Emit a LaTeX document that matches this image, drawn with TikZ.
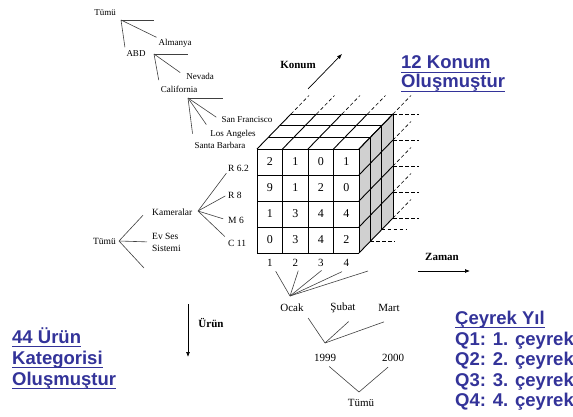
\documentclass[tikz,border=0pt]{standalone}
\usepackage{fontspec}
\setmainfont{Liberation Serif}
\newfontfamily\notefont{Liberation Sans}
\usetikzlibrary{arrows.meta}

\definecolor{noteblue}{RGB}{51,51,153}
\definecolor{sidegray}{RGB}{208,208,208}

% thick underline for the blue notes
\newcommand\noteline[1]{\setbox0\hbox{#1}\rlap{\rule[-4.4pt]{\wd0}{1.6pt}}\box0}

\begin{document}
\begin{tikzpicture}[
  x=1pt,y=-1pt,
  loclbl/.style={inner sep=1pt,font=\fontsize{9}{10}\selectfont},
  prodlbl/.style={inner sep=1pt,font=\fontsize{9.5}{12}\selectfont},
  timelbl/.style={inner sep=1pt,font=\fontsize{11}{12}\selectfont},
  axislbl/.style={inner sep=1pt,font=\fontsize{11}{12}\selectfont\bfseries},
  cellnum/.style={inner sep=0pt,font=\fontsize{12}{13}\selectfont},
  note/.style={anchor=base west,inner sep=0pt,text=noteblue,
    font=\notefont\bfseries\fontsize{18.5}{20}\selectfont},
  branch/.style={line width=.6pt,black!75},
  cubeline/.style={line width=.9pt},
  guide/.style={line width=.6pt,dash pattern=on 3.5pt off 2.5pt},
  dir/.style={line width=.7pt,-{Latex[length=5pt,width=4pt]}}
]
  \useasboundingbox (0,0) rectangle (573,417);

  % location hierarchy
  \node[loclbl] (loc-all) at (105,13) {Tümü};
  \node[loclbl] (almanya) at (175,43) {Almanya};
  \node[loclbl] (abd) at (136,54) {ABD};
  \node[loclbl] (nevada) at (200,76) {Nevada};
  \node[loclbl] (california) at (179,89) {California};
  \node[loclbl] (sanfran) at (247,120) {San Francisco};
  \node[loclbl] (losang) at (233,134) {Los Angeles};
  \node[loclbl] (santab) at (220,145) {Santa Barbara};
  \coordinate (loc-j1) at (121,20);
  \coordinate (loc-j2) at (154,54);
  \coordinate (loc-j3) at (188,98);
  \draw[branch] (loc-j1) -- ++(33,0);
  \draw[branch,shorten >=1pt] (loc-j1) -- (almanya.north west);
  \draw[branch,shorten >=2.5pt] (loc-j1) -- (abd.north west);
  \draw[branch] (loc-j2) -- ++(34,0);
  \draw[branch,shorten >=6pt] (loc-j2) -- (nevada.west);
  \draw[branch,shorten >=4.5pt] (loc-j2) -- (california.north west);
  \draw[branch] (loc-j3) -- ++(35,0);
  \draw[branch,shorten >=5pt] (loc-j3) -- (sanfran.west);
  \draw[branch,shorten >=5pt] (loc-j3) -- (losang.north west);
  \draw[branch,shorten >=7pt] (loc-j3) -- (santab.north west);

  % product hierarchy
  \node[prodlbl] (prod-all) at (104.5,241) {Tümü};
  \node[prodlbl,anchor=west] (kamera) at (151,212) {Kameralar};
  \node[prodlbl,anchor=west,align=left] (evses) at (151,242) {Ev Ses\\Sistemi};
  \node[prodlbl,anchor=west] (r62) at (227,168) {R 6.2};
  \node[prodlbl,anchor=west] (r8) at (227,195) {R 8};
  \node[prodlbl,anchor=west] (m6) at (227,220) {M 6};
  \node[prodlbl,anchor=west] (c11) at (227,243) {C 11};
  \coordinate (prod-j1) at (119,241);
  \coordinate (prod-j2) at (198,211);
  \draw[branch] (prod-j1) -- ([xshift=-8pt]kamera.base west);
  \draw[branch,shorten >=4pt] (prod-j1) -- (evses.west);
  \draw[branch] (prod-j1) -- ++(25,27);
  \draw[branch,shorten >=1pt] (prod-j2) -- (r62.south west);
  \draw[branch,shorten >=2pt] (prod-j2) -- (r8.west);
  \draw[branch,shorten >=4pt] (prod-j2) -- (m6.west);
  \draw[branch,shorten >=3pt] (prod-j2) -- (c11.north west);

  % data cube: right side, top and front
  \fill[sidegray] (359,149) -- ++(34,-35) -- ++(0,104) -- (359,253) -- cycle;
  \foreach \k in {0,...,3} {
    \draw[cubeline] (257+11.33*\k,149-11.67*\k) -- ++(102,0);
    \draw[cubeline] (359+11.33*\k,149-11.67*\k) -- ++(0,104);
  }
  \foreach \i in {0,...,4} {
    \draw[cubeline] (257+25.5*\i,149) -- ++(34,-35);
    \draw[cubeline] (359,149+26*\i) -- ++(34,-35);
    \draw[cubeline] (257+25.5*\i,149) -- ++(0,104);
    \draw[cubeline] (257,149+26*\i) -- ++(102,0);
  }
  \foreach \row [count=\r from 0] in {{2,1,0,1},{9,1,2,0},{1,3,4,4},{0,3,4,2}}
    \foreach \v [count=\c from 0] in \row
      \node[cellnum] (cell-\r-\c) at (269.75+25.5*\c,162+26*\r) {\v};

  % dashed continuation of the cube
  \foreach \i in {0,...,4}
    \draw[guide] (291+25.5*\i,114) -- ++(18,-18.5);
  \foreach \j in {1,...,4}
    \draw[guide] (393,114+26*\j) -- ++(18,-18.5);
  \foreach \j in {0,...,4}
    \draw[guide] (393,114+26*\j) -- ++(26,0);
  \draw[guide] (381.7,229.7) -- ++(25,0);
  \draw[guide] (370.3,241.3) -- ++(25,0);

  % time hierarchy
  \foreach \c in {1,...,4}
    \node[timelbl] (col\c) at (269.75+25.5*\c-25.5,263) {\c};
  \node[timelbl] (ocak) at (292,308) {Ocak};
  \node[timelbl] (subat) at (343,308) {Şubat};
  \node[timelbl] (mart) at (389,308) {Mart};
  \node[timelbl] (y1999) at (325,358) {1999};
  \node[timelbl] (y2000) at (393,358) {2000};
  \node[timelbl] (time-all) at (361,403) {Tümü};
  \coordinate (time-j1) at (290,296);
  \coordinate (time-j2) at (325,343);
  \coordinate (time-j3) at (359,392);
  \foreach \c/\s in {1/4,2/3,3/4,4/9}
    \draw[branch,shorten >=\s pt] (time-j1) -- (col\c.south east);
  \draw[branch] (time-j1) -- ++(78,-25);
  \draw[branch,shorten >=6pt] (time-j2) -- (ocak.south east);
  \draw[branch,shorten >=11pt] (time-j2) -- (subat.south east);
  \draw[branch] (time-j2) -- ([shift={(-5,9)}]mart.south);
  \draw[branch,shorten <=5.5pt,shorten >=6.5pt] (y1999.south) -- (time-j3) -- (y2000.south);

  % dimension arrows
  \coordinate (konum-s) at (308,89);
  \coordinate (konum-e) at (342,54);
  \coordinate (zaman-s) at (418,271);
  \coordinate (zaman-e) at (470,271);
  \coordinate (urun-s) at (188,304);
  \coordinate (urun-e) at (188,357);
  \draw[dir] (konum-s) -- (konum-e);
  \draw[dir] (zaman-s) -- (zaman-e);
  \draw[dir] (urun-s) -- (urun-e);
  \node[axislbl] (konum) at (298,65) {Konum};
  \node[axislbl] (zaman) at (442,257) {Zaman};
  \node[axislbl] (urun) at (211,323) {Ürün};

  % notes
  \node[note] (konum-note1) at (401,69) {\noteline{12 Konum}};
  \node[note] (konum-note2) at (401,88) {\noteline{Oluşmuştur}};
  \node[note] (urun-note1) at (12,343) {\noteline{44 Ürün}};
  \node[note] (urun-note2) at (12,364) {\noteline{Kategorisi}};
  \node[note] (urun-note3) at (12,385) {\noteline{Oluşmuştur}};
  \node[note] (ceyrek-head) at (455,324) {\noteline{Çeyrek Yıl}};
  \node[note] (ceyrek-q1) at (455,345) {Q1: 1. çeyrek};
  \node[note] (ceyrek-q2) at (455,365.5) {Q2: 2. çeyrek};
  \node[note] (ceyrek-q3) at (455,386) {Q3: 3. çeyrek};
  \node[note] (ceyrek-q4) at (455,406.5) {Q4: 4. çeyrek};
\end{tikzpicture}
\end{document}
